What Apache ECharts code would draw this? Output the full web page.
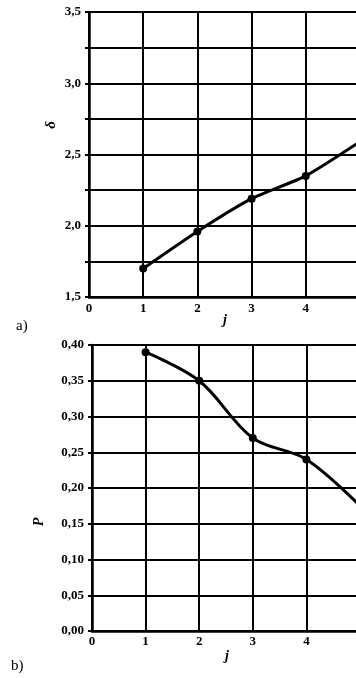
<!DOCTYPE html>
<html>
<head>
<meta charset="utf-8">
<script src="https://cdn.jsdelivr.net/npm/echarts@6/dist/echarts.min.js"></script>
<style>
  html, body { margin: 0; padding: 0; background: #fff; }
  #chart { width: 356px; height: 678px; }
</style>
</head>
<body>
<div id="chart"></div>
<script>
// values
var jValues = [1, 2, 3, 4, 5];
var deltaValues = [1.70, 1.96, 2.19, 2.35, 2.59];
var pValues = [0.39, 0.35, 0.27, 0.24, 0.175];

var font = 'Liberation Serif';
var lineBlack = { color: '#000', width: 2 };

var pairs = function (xs, ys) {
    return xs.map(function (x, i) { return [x, ys[i]]; });
};

var commaLabel = function (digits, step) {
    return function (v) {
        if (step && Math.abs(v / step - Math.round(v / step)) > 1e-6) return '';
        return v.toFixed(digits).replace('.', ',');
    };
};

var labelStyle = { color: '#000', fontFamily: font, fontWeight: 'bold', fontSize: 13 };

var xAxisFor = function (gridIndex, margin) {
    return {
        type: 'value', gridIndex: gridIndex, min: 0, max: 5, interval: 1,
        axisLine: { lineStyle: { color: '#000', width: 2.5 } },
        axisTick: { show: false },
        axisLabel: Object.assign({ margin: margin }, labelStyle),
        splitLine: { show: true, lineStyle: lineBlack }
    };
};

var option = {
    animation: false,
    backgroundColor: '#fff',
    grid: [
        { left: 89, top: 12, width: 271, height: 285, outerBoundsMode: 'none', containLabel: false },
        { left: 92, top: 345, width: 268, height: 286, outerBoundsMode: 'none', containLabel: false }
    ],
    xAxis: [xAxisFor(0, 5), xAxisFor(1, 4)],
    yAxis: [
        {
            type: 'value', gridIndex: 0, min: 1.5, max: 3.5, interval: 0.25,
            axisLine: { lineStyle: { color: '#000', width: 2.5 } },
            axisTick: { show: true, inside: false, length: 4, lineStyle: lineBlack },
            axisLabel: Object.assign({ margin: 8, formatter: commaLabel(1, 0.5) }, labelStyle),
            splitLine: { show: true, lineStyle: lineBlack }
        },
        {
            type: 'value', gridIndex: 1, min: 0, max: 0.4, interval: 0.05,
            axisLine: { lineStyle: { color: '#000', width: 2.5 } },
            axisTick: { show: true, inside: false, length: 4, lineStyle: lineBlack },
            axisLabel: Object.assign({ margin: 8, formatter: commaLabel(2) }, labelStyle),
            splitLine: { show: true, lineStyle: lineBlack }
        }
    ],
    series: [
        {
            type: 'line', xAxisIndex: 0, yAxisIndex: 0,
            data: pairs(jValues, deltaValues),
            smooth: 0.2,
            symbol: 'circle', symbolSize: 8,
            itemStyle: { color: '#000' },
            lineStyle: { color: '#000', width: 3 }
        },
        {
            type: 'line', xAxisIndex: 1, yAxisIndex: 1,
            data: pairs(jValues, pValues),
            smooth: 0.35,
            symbol: 'circle', symbolSize: 8,
            itemStyle: { color: '#000' },
            lineStyle: { color: '#000', width: 3 }
        }
    ],
    graphic: [
        { type: 'text', x: 51, y: 125, rotation: Math.PI / 2,
          style: { text: 'δ', fill: '#000', font: 'italic bold 15px ' + font, align: 'center', verticalAlign: 'middle' } },
        { type: 'text', x: 39, y: 522, rotation: Math.PI / 2,
          style: { text: 'P', fill: '#000', font: 'italic bold 14px ' + font, align: 'center', verticalAlign: 'middle' } },
        { type: 'text', x: 225, y: 320,
          style: { text: 'j', fill: '#000', font: 'italic bold 14px ' + font, align: 'center', verticalAlign: 'middle' } },
        { type: 'text', x: 227, y: 656,
          style: { text: 'j', fill: '#000', font: 'italic bold 14px ' + font, align: 'center', verticalAlign: 'middle' } },
        { type: 'text', x: 16, y: 326,
          style: { text: 'a)', fill: '#000', font: '15px ' + font, align: 'left', verticalAlign: 'middle' } },
        { type: 'text', x: 11, y: 666,
          style: { text: 'b)', fill: '#000', font: '15px ' + font, align: 'left', verticalAlign: 'middle' } }
    ]
};

var chart = echarts.init(document.getElementById('chart'), null, { renderer: 'canvas' });
chart.setOption(option);
</script>
</body>
</html>
